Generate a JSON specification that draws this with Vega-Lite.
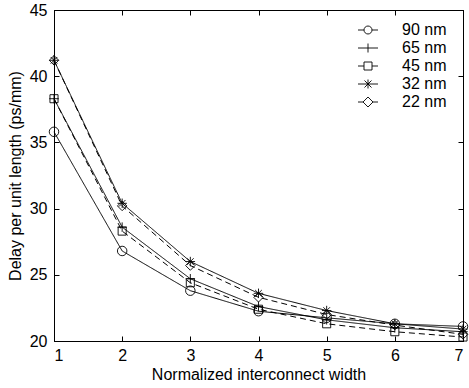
{
  "$schema": "https://vega.github.io/schema/vega-lite/v6.json",
  "width": 409,
  "height": 331,
  "autosize": "none",
  "padding": {"left": 54, "top": 10, "right": 6, "bottom": 47},
  "background": "white",
  "config": {
    "view": {"stroke": "black", "strokeWidth": 1},
    "font": "Liberation Sans",
    "axis": {
      "grid": false,
      "domainColor": "black",
      "tickColor": "black",
      "labelColor": "black",
      "titleColor": "black",
      "labelFont": "Liberation Sans",
      "titleFont": "Liberation Sans",
      "labelFontSize": 16,
      "titleFontSize": 16,
      "titleFontWeight": "normal",
      "tickSize": -5
    },
    "legend": {"labelFont": "Liberation Sans", "labelFontSize": 16, "labelColor": "black"}
  },
  "data": {
    "values": [
      {"x": 1, "series": "90 nm", "y": 35.8}, {"x": 2, "series": "90 nm", "y": 26.8}, {"x": 3, "series": "90 nm", "y": 23.8}, {"x": 4, "series": "90 nm", "y": 22.25}, {"x": 5, "series": "90 nm", "y": 21.75}, {"x": 6, "series": "90 nm", "y": 21.3}, {"x": 7, "series": "90 nm", "y": 21.1},
      {"x": 1, "series": "65 nm", "y": 38.3}, {"x": 2, "series": "65 nm", "y": 28.6}, {"x": 3, "series": "65 nm", "y": 24.7}, {"x": 4, "series": "65 nm", "y": 22.6}, {"x": 5, "series": "65 nm", "y": 21.6}, {"x": 6, "series": "65 nm", "y": 21.0}, {"x": 7, "series": "65 nm", "y": 20.7},
      {"x": 1, "series": "45 nm", "y": 38.3}, {"x": 2, "series": "45 nm", "y": 28.3}, {"x": 3, "series": "45 nm", "y": 24.4}, {"x": 4, "series": "45 nm", "y": 22.4}, {"x": 5, "series": "45 nm", "y": 21.3}, {"x": 6, "series": "45 nm", "y": 20.7}, {"x": 7, "series": "45 nm", "y": 20.3},
      {"x": 1, "series": "32 nm", "y": 41.2}, {"x": 2, "series": "32 nm", "y": 30.4}, {"x": 3, "series": "32 nm", "y": 26.0}, {"x": 4, "series": "32 nm", "y": 23.6}, {"x": 5, "series": "32 nm", "y": 22.3}, {"x": 6, "series": "32 nm", "y": 21.3}, {"x": 7, "series": "32 nm", "y": 20.9},
      {"x": 1, "series": "22 nm", "y": 41.2}, {"x": 2, "series": "22 nm", "y": 30.2}, {"x": 3, "series": "22 nm", "y": 25.7}, {"x": 4, "series": "22 nm", "y": 23.3}, {"x": 5, "series": "22 nm", "y": 22.0}, {"x": 6, "series": "22 nm", "y": 21.2}, {"x": 7, "series": "22 nm", "y": 20.5}
    ]
  },
  "resolve": {"axis": {"x": "independent", "y": "independent"}, "scale": {"shape": "independent"}},
  "layer": [
    {
      "mark": {"type": "line", "color": "black", "strokeWidth": 1},
      "encoding": {
        "x": {"field": "x", "type": "quantitative", "scale": {"domain": [1, 7], "nice": false},
              "axis": {"orient": "bottom", "values": [1, 2, 3, 4, 5, 6, 7], "title": "Normalized interconnect width", "labelPadding": 11, "titlePadding": 3, "format": "d"}},
        "y": {"field": "y", "type": "quantitative", "scale": {"domain": [20, 45], "nice": false, "zero": false},
              "axis": {"orient": "left", "values": [20, 25, 30, 35, 40, 45], "title": "Delay per unit length (ps/mm)", "labelPadding": 12, "titlePadding": 6}},
        "detail": {"field": "series"},
        "strokeDash": {"field": "series", "type": "nominal", "legend": null,
                       "scale": {"domain": ["90 nm", "65 nm", "45 nm", "32 nm", "22 nm"], "range": [[1, 0], [1, 0], [6, 4], [1, 0], [6, 4]]}}
      }
    },
    {
      "mark": {"type": "point", "filled": false, "stroke": "black", "strokeWidth": 0.9, "size": 90, "opacity": 1},
      "encoding": {
        "x": {"field": "x", "type": "quantitative", "axis": {"orient": "top", "values": [1, 2, 3, 4, 5, 6, 7], "labels": false, "title": null}},
        "y": {"field": "y", "type": "quantitative", "axis": {"orient": "right", "values": [20, 25, 30, 35, 40, 45], "labels": false, "title": null}},
        "shape": {"field": "series", "type": "nominal", "legend": null,
                  "scale": {"domain": ["90 nm", "65 nm", "45 nm", "32 nm", "22 nm"],
                            "range": ["circle", "M-1,0H1M0,-1V1", "M-0.85,-0.85H0.85V0.85H-0.85Z", "M-1,0H1M0,-1V1M-0.7,-0.7L0.7,0.7M-0.7,0.7L0.7,-0.7", "M-1,0L0,-1L1,0L0,1Z"]}}
      }
    },
    {
      "transform": [{"filter": "false"}],
      "mark": {"type": "point", "filled": false, "stroke": "black", "strokeWidth": 0.9, "size": 100},
      "encoding": {
        "shape": {"field": "series", "type": "nominal",
                  "scale": {"domain": ["90 nm", "65 nm", "45 nm", "32 nm", "22 nm"],
                            "range": [
                              "M-2,0H-0.8M0.8,0H2M0.8,0A0.8,0.8 0 1 1 -0.8,0A0.8,0.8 0 1 1 0.8,0",
                              "M-2,0H2M0,-0.9V0.9",
                              "M-2,0H-0.8M0.8,0H2M-0.8,-0.8H0.8V0.8H-0.8Z",
                              "M-2,0H2M0,-0.9V0.9M-0.7,-0.7L0.7,0.7M-0.7,0.7L0.7,-0.7",
                              "M-2,0H-1M1,0H2M-1,0L0,-1L1,0L0,1Z"]},
                  "legend": {"title": null, "orient": "none", "legendX": 306, "legendY": 12, "symbolSize": 100, "symbolStrokeWidth": 0.9, "symbolStrokeColor": "black", "symbolOpacity": 1, "labelOffset": 26, "rowPadding": 2}}
      }
    }
  ]
}
